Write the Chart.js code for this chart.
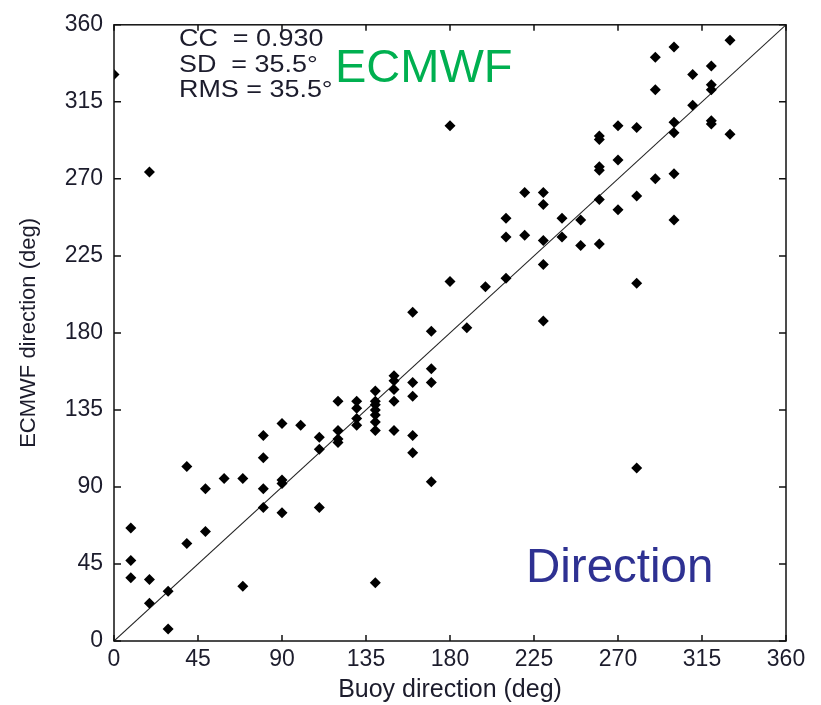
<!DOCTYPE html>
<html>
<head>
<meta charset="utf-8">
<script src="https://cdn.jsdelivr.net/npm/chart.js@4/dist/chart.umd.min.js"></script>
<style>
  body { margin: 0; background: #fff; }
  #wrap { width: 821px; height: 705px; }
</style>
</head>
<body>
<div id="wrap"><canvas id="dirChart" width="821" height="705"></canvas></div>
<script>
// buoy direction (x) vs ECMWF direction (y), degrees
const buoyDir = [
  0, 9, 9, 9, 19, 19, 19, 29, 29, 39, 39, 49, 49, 59, 69, 69,
  80, 80, 80, 80, 90, 90, 90, 90, 100, 110, 110, 110,
  120, 120, 120, 120, 130, 130, 130, 130,
  140, 140, 140, 140, 140, 140, 140, 140,
  150, 150, 150, 150, 150, 160, 160, 160, 160, 160,
  170, 170, 170, 170, 180, 180, 189, 199,
  210, 210, 210, 220, 220, 230, 230, 230, 230, 230,
  240, 240, 250, 250, 260, 260, 260, 260, 260, 260,
  270, 270, 270, 280, 280, 280, 280, 290, 290, 290,
  300, 300, 300, 300, 300, 310, 310, 320, 320, 320, 320, 320, 330, 330
];
const ecmwfDir = [
  331, 66, 47, 37, 36, 22, 274, 29, 7, 102, 57, 89, 64, 95, 95, 32,
  120, 107, 89, 78, 127, 94, 92, 75, 126, 119, 112, 78,
  140, 123, 118, 116, 140, 136, 130, 126,
  146, 140, 138, 135, 132, 128, 123, 34,
  155, 152, 147, 140, 123, 192, 151, 143, 120, 110,
  181, 159, 151, 93, 301, 210, 183, 207,
  247, 236, 212, 262, 237, 262, 255, 234, 220, 187,
  247, 236, 246, 231, 295, 293, 277, 275, 258, 232,
  301, 281, 252, 300, 260, 209, 101, 341, 322, 270,
  347, 303, 297, 273, 246, 331, 313, 336, 325, 322, 304, 302, 351, 296
];
const axisTicks = [0, 45, 90, 135, 180, 225, 270, 315, 360];
const statLines = ['CC  = 0.930', 'SD  = 35.5\u00b0', 'RMS = 35.5\u00b0'];

const points = buoyDir.map((x, i) => ({ x: x, y: ecmwfDir[i] }));

// box round the plot with inward tick marks on all four sides, plus the labels
const frame = {
  id: 'frame',
  afterDraw(chart) {
    const { ctx, chartArea: a, scales } = chart;
    ctx.save();
    ctx.strokeStyle = '#111';
    ctx.lineWidth = 1.5;
    ctx.strokeRect(a.left, a.top, a.right - a.left, a.bottom - a.top);
    axisTicks.forEach(v => {
      const px = scales.x.getPixelForValue(v);
      const py = scales.y.getPixelForValue(v);
      ctx.beginPath();
      ctx.moveTo(px, a.bottom); ctx.lineTo(px, a.bottom - 6);
      ctx.moveTo(px, a.top); ctx.lineTo(px, a.top + 6);
      ctx.moveTo(a.left, py); ctx.lineTo(a.left + 7, py);
      ctx.moveTo(a.right, py); ctx.lineTo(a.right - 7, py);
      ctx.stroke();
    });

    // stats text is a bit wider than plain Arial in the source picture
    ctx.fillStyle = '#1c1c2c';
    ctx.font = '23px Arial';
    ctx.textBaseline = 'alphabetic';
    statLines.forEach((t, i) => {
      ctx.save();
      ctx.translate(179, 46 + i * 25.5);
      ctx.scale(1.17, 1);
      ctx.fillText(t, 0, 0);
      ctx.restore();
    });

    ctx.fillStyle = '#00b050';
    ctx.font = '47px Arial';
    ctx.fillText('ECMWF', 335, 82);

    ctx.fillStyle = '#2e3192';
    ctx.font = '47.5px Arial';
    ctx.fillText('Direction', 526, 582);
    ctx.restore();
  }
};

const ctx = document.getElementById('dirChart').getContext('2d');
new Chart(ctx, {
  type: 'scatter',
  data: {
    datasets: [
      {
        label: 'obs',
        data: points,
        pointStyle: 'rectRot',
        pointRadius: 5.5,
        backgroundColor: '#000',
        borderColor: '#000',
        borderWidth: 0,
      },
      {
        label: '1:1',
        type: 'line',
        data: [{ x: 0, y: 0 }, { x: 360, y: 360 }],
        borderColor: '#222',
        borderWidth: 1.1,
        pointRadius: 0,
        fill: false,
      },
    ],
  },
  options: {
    responsive: false,
    animation: false,
    layout: { padding: { top: 21, right: 35, left: 0, bottom: 0 } },
    plugins: {
      legend: { display: false },
      tooltip: { enabled: false },
    },
    scales: {
      x: {
        type: 'linear',
        min: 0,
        max: 360,
        afterBuildTicks: s => { s.ticks = axisTicks.map(v => ({ value: v })); },
        afterFit: s => { s.height = 64; },
        grid: { display: false, drawTicks: false },
        border: { display: false },
        ticks: { color: '#1c1c2c', font: { family: 'Arial', size: 23 }, padding: 5, maxRotation: 0 },
        title: {
          display: true,
          text: 'Buoy direction (deg)',
          color: '#1c1c2c',
          font: { family: 'Arial', size: 25 },
          padding: { top: 0, bottom: 0 },
        },
      },
      y: {
        type: 'linear',
        min: 0,
        max: 360,
        afterBuildTicks: s => { s.ticks = axisTicks.map(v => ({ value: v })); },
        afterFit: s => { s.width = 114; },
        grid: { display: false, drawTicks: false },
        border: { display: false },
        ticks: { color: '#1c1c2c', font: { family: 'Arial', size: 23 }, padding: 11 },
        title: {
          display: true,
          text: 'ECMWF direction (deg)',
          color: '#1c1c2c',
          font: { family: 'Arial', size: 22 },
          padding: { top: 16, bottom: 0 },
        },
      },
    },
  },
  plugins: [frame],
});
</script>
</body>
</html>
